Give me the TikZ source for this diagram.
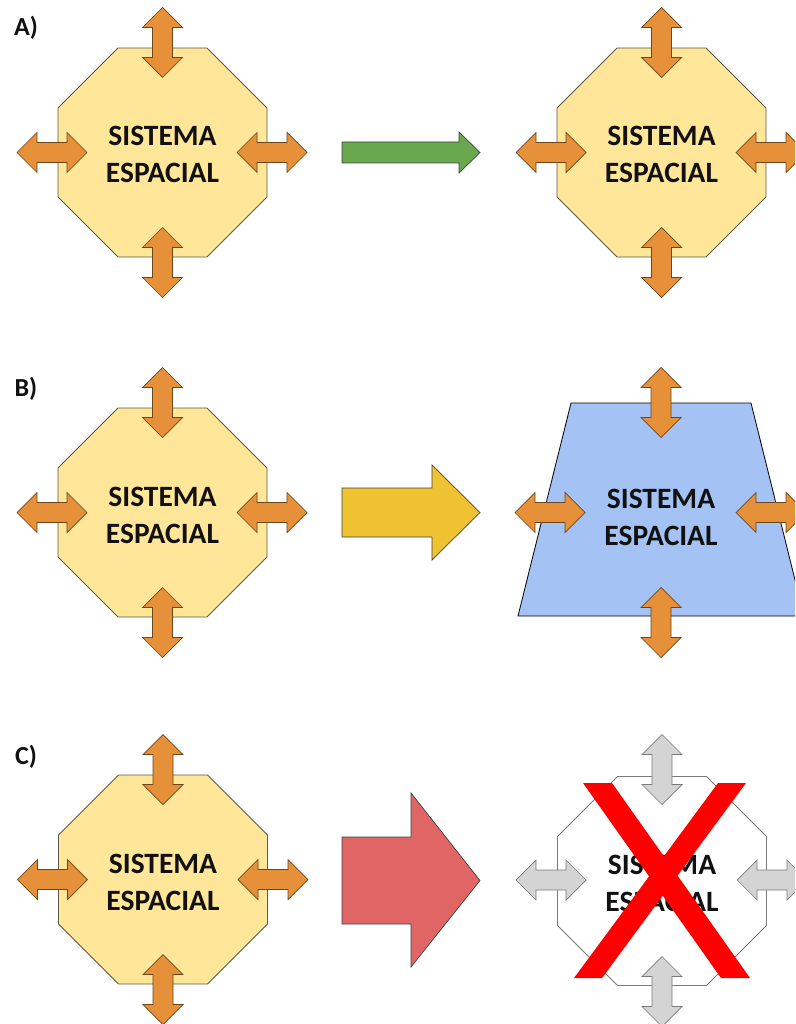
\documentclass[tikz,border=0pt]{standalone}
\usepackage{fontspec}
\setmainfont{Carlito}
\definecolor{octfill}{HTML}{FFE699}
\definecolor{octline}{HTML}{5A5A48}
\definecolor{orangefill}{HTML}{E6913A}
\definecolor{orangeline}{HTML}{6E4518}
\definecolor{greenfill}{HTML}{69A84F}
\definecolor{goldfill}{HTML}{EFC232}
\definecolor{redfill}{HTML}{E06666}
\definecolor{bluefill}{HTML}{A4C2F4}
\definecolor{grayfill}{HTML}{D4D4D4}
\definecolor{grayline}{HTML}{7A7A7A}
\definecolor{txt}{HTML}{111111}
\tikzset{
  dblarrow/.pic={
    \path[pic actions] (-35,0) -- (-15,-20) -- (-15,-10) -- (15,-10) -- (15,-20) -- (35,0)
      -- (15,20) -- (15,10) -- (-15,10) -- (-15,20) -- cycle;
  },
  orangearr/.style={fill=orangefill, draw=orangeline, line width=0.7pt},
  grayarr/.style={fill=grayfill, draw=grayline, line width=0.7pt},
  octstyle/.style={fill=octfill, draw=octline, line width=0.8pt},
  sistext/.style={align=center, text=txt, font=\fontsize{29.5}{37}\selectfont\bfseries, inner sep=0pt},
  lbl/.style={text=txt, font=\fontsize{26}{28}\selectfont\bfseries, inner sep=0pt},
  bigarrow/.style={draw=black!75, line width=0.7pt}
}
% octagon centred at (#1,#2), half size 104.5, chamfer 60
\newcommand{\octpath}[2]{(#1-44.5,#2-104.5) -- (#1+44.5,#2-104.5) -- (#1+104.5,#2-44.5) -- (#1+104.5,#2+44.5) -- (#1+44.5,#2+104.5) -- (#1-44.5,#2+104.5) -- (#1-104.5,#2+44.5) -- (#1-104.5,#2-44.5) -- cycle}
\begin{document}
\begin{tikzpicture}[x=1pt,y=-1pt]
\useasboundingbox (0,0) rectangle (795,1024);
\clip (0,0) rectangle (795,1024);

% ---------- Row A ----------
\node[lbl] (la) at (26,28) {A)};
\draw[octstyle] \octpath{162.5}{152.5};
\node[sistext] (ta1) at (162.5,154) {SISTEMA\\ESPACIAL};
\pic[orangearr, rotate=90] at (162.5,42.5) {dblarrow};
\pic[orangearr, rotate=90] at (162.5,262.5) {dblarrow};
\pic[orangearr] at (52,152.5) {dblarrow};
\pic[orangearr] at (272,152.5) {dblarrow};

\draw[bigarrow, fill=greenfill] (342,142) -- (459,142) -- (459,132) -- (480,152.5) -- (459,173) -- (459,163) -- (342,163) -- cycle;

\draw[octstyle] \octpath{661.5}{152.5};
\node[sistext] (ta2) at (661.5,154) {SISTEMA\\ESPACIAL};
\pic[orangearr, rotate=90] at (661.5,42.5) {dblarrow};
\pic[orangearr, rotate=90] at (661.5,262.5) {dblarrow};
\pic[orangearr] at (551,152.5) {dblarrow};
\pic[orangearr] at (771,152.5) {dblarrow};

% ---------- Row B ----------
\node[lbl] (lb) at (26,389) {B)};
\draw[octstyle] \octpath{162.5}{512.5};
\node[sistext] (tb1) at (162.5,515) {SISTEMA\\ESPACIAL};
\pic[orangearr, rotate=90] at (162.5,402.5) {dblarrow};
\pic[orangearr, rotate=90] at (162.5,622.5) {dblarrow};
\pic[orangearr] at (52,512.5) {dblarrow};
\pic[orangearr] at (272,512.5) {dblarrow};

\draw[bigarrow, fill=goldfill] (342,488) -- (432,488) -- (432,465) -- (480,512.5) -- (432,560) -- (432,537) -- (342,537) -- cycle;

\draw[fill=bluefill, draw=black, line width=0.8pt] (571,403) -- (751,403) -- (804,616) -- (518,616) -- cycle;
\node[sistext] (tb2) at (661,517) {SISTEMA\\ESPACIAL};
\pic[orangearr, rotate=90] at (661,402.5) {dblarrow};
\pic[orangearr, rotate=90] at (661,622.5) {dblarrow};
\pic[orangearr] at (550,512.5) {dblarrow};
\pic[orangearr] at (771,512.5) {dblarrow};

% ---------- Row C ----------
\node[lbl] (lc) at (26,757) {C)};
\draw[octstyle] \octpath{163}{879.5};
\node[sistext] (tc1) at (163,882) {SISTEMA\\ESPACIAL};
\pic[orangearr, rotate=90] at (163,769.5) {dblarrow};
\pic[orangearr, rotate=90] at (163,989.5) {dblarrow};
\pic[orangearr] at (52.5,879.5) {dblarrow};
\pic[orangearr] at (273,879.5) {dblarrow};

\draw[bigarrow, fill=redfill] (342,837) -- (411,837) -- (411,793) -- (480,880.5) -- (411,967) -- (411,924) -- (342,924) -- cycle;

\draw[fill=white, draw=grayline, line width=0.8pt] \octpath{662}{881};
\node[sistext] (tc2) at (662,883) {SISTEMA\\ESPACIAL};
\pic[grayarr, rotate=90] at (662,769.5) {dblarrow};
\pic[grayarr, rotate=90] at (662,991.5) {dblarrow};
\pic[grayarr] at (551,880) {dblarrow};
\pic[grayarr] at (772,880) {dblarrow};

% red X
\fill[red] (583,783) -- (612,783) -- (750,978) -- (721,978) -- cycle;
\fill[red] (718,783) -- (746,783) -- (602,978) -- (574,978) -- cycle;
\end{tikzpicture}
\end{document}
